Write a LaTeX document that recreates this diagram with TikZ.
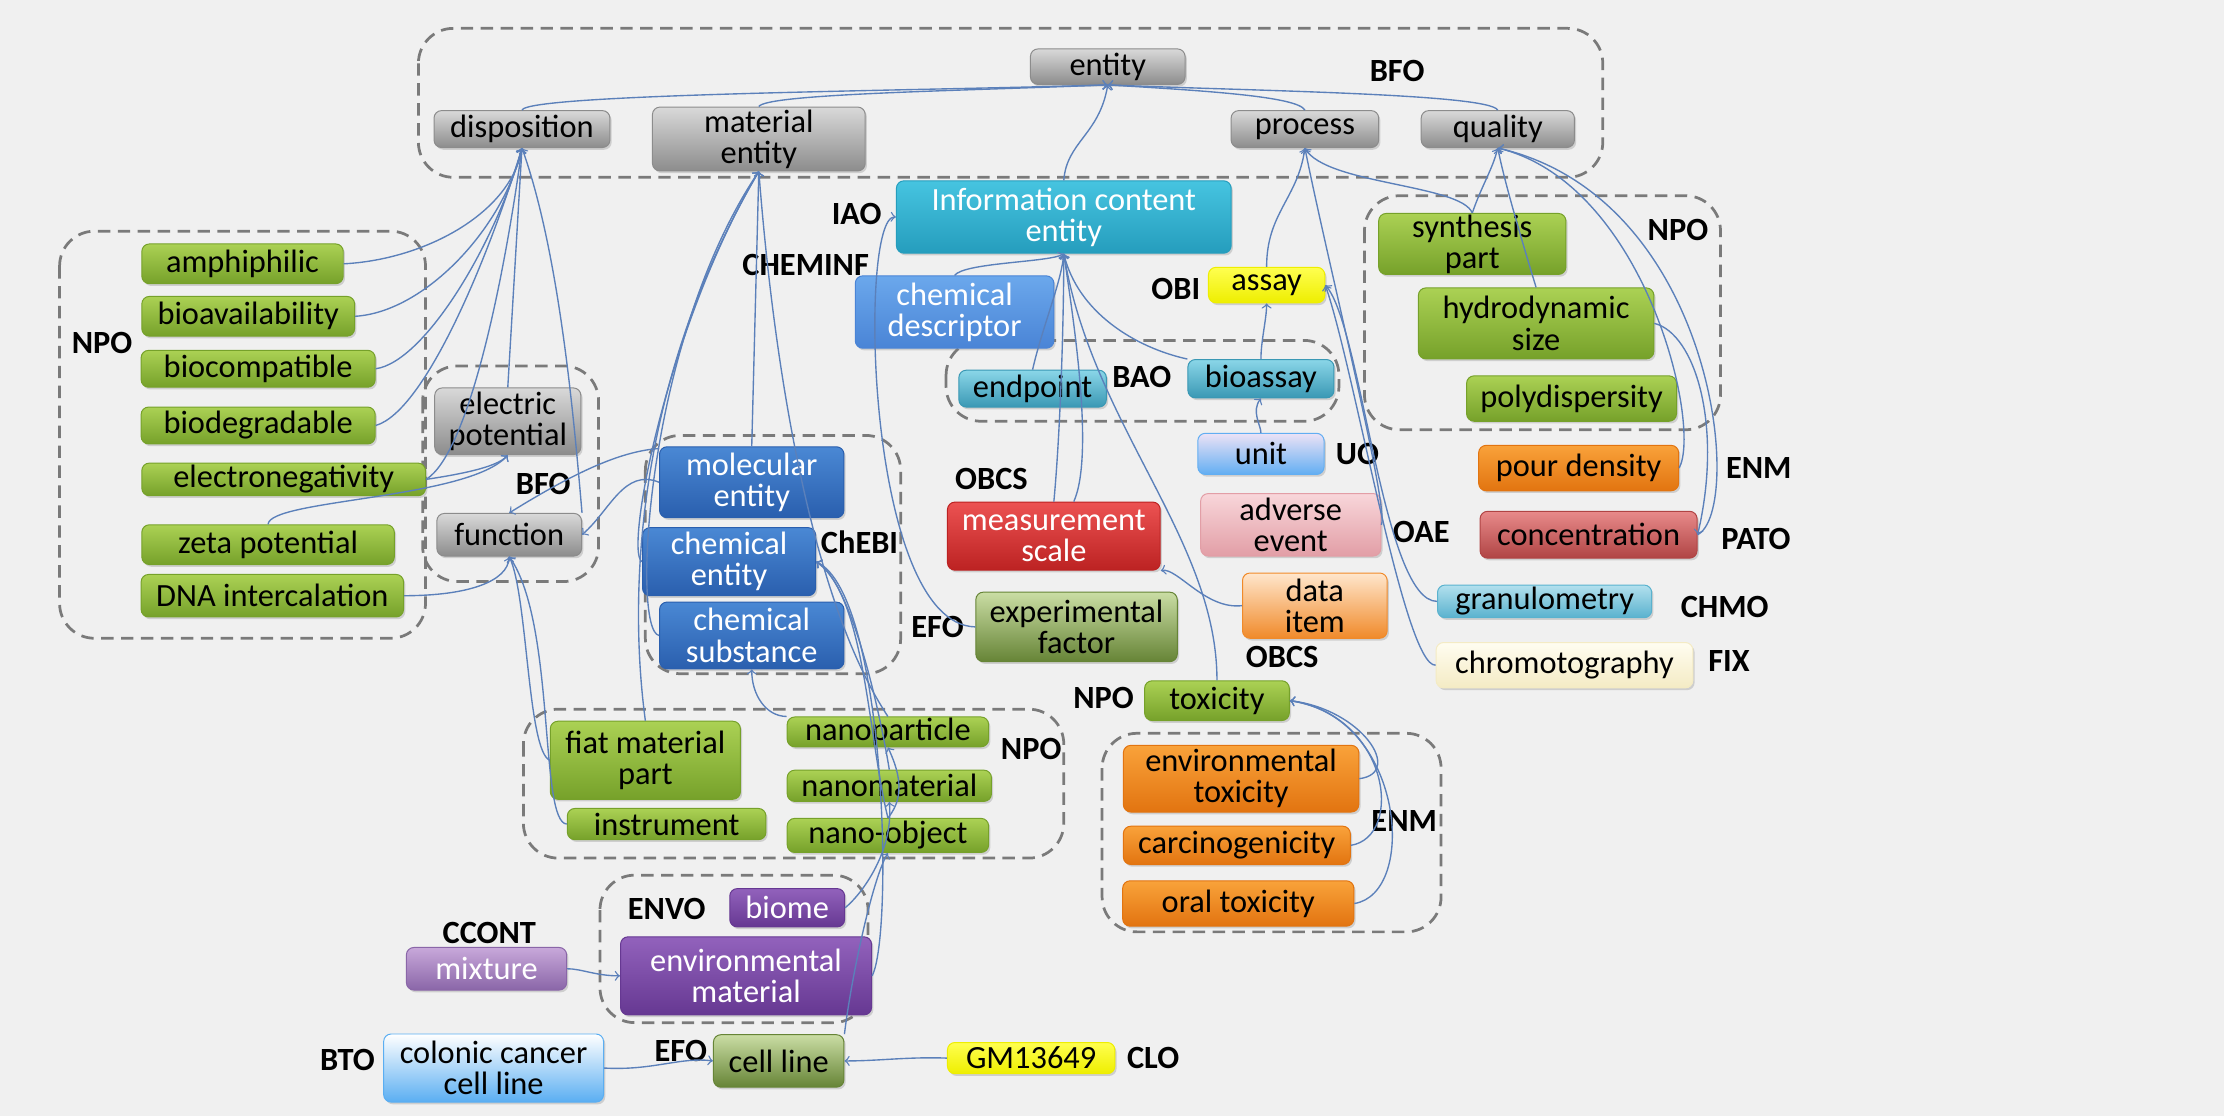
\documentclass[tikz,border=0pt]{standalone}
\usepackage{fontspec}
\setmainfont{Carlito}
\usetikzlibrary{shadows}

\definecolor{bgc}{HTML}{F0F0F0}
\definecolor{edgec}{HTML}{5B80BA}
\definecolor{grpc}{HTML}{7A7A7A}

\tikzset{
  nd/.style={draw, rounded corners=3pt, inner xsep=2pt, inner ysep=0pt, align=center,
    font=\fontsize{13}{12.5}\selectfont,
    drop shadow={shadow xshift=0.7pt, shadow yshift=-0.9pt, opacity=0.3}},
  wh/.style 2 args={minimum width=#1*0.02cm, minimum height=#2*0.02cm},
  lbl/.style={font=\bfseries\fontsize{13}{13}\selectfont, inner sep=0pt},
  grp/.style={draw=grpc, dashed, dash pattern=on 5pt off 3pt, line width=1.1pt, rounded corners=14pt},
  edge/.style={->, draw=edgec, line width=0.55pt},
  bfonode/.style={top color=white!85!black, bottom color=black!45, draw=black!45},
  nponode/.style={top color=HTML_npoT, bottom color=HTML_npoB, draw=HTML_npoB},
  chebinode/.style={top color=HTML_chebiT, bottom color=HTML_chebiB, draw=HTML_chebiB, text=white},
  cheminfnode/.style={top color=HTML_descT, bottom color=HTML_descB, draw=HTML_descB, text=white},
  iaonode/.style={top color=HTML_iaoT, bottom color=HTML_iaoB, draw=HTML_iaoB, text=white},
  baonode/.style={top color=HTML_baoT, bottom color=HTML_baoB, draw=HTML_baoB},
  obinode/.style={top color=HTML_obiT, bottom color=HTML_obiB, draw=HTML_obiB},
  uonode/.style={top color=HTML_uoT, bottom color=HTML_uoB, draw=HTML_uoB},
  oaenode/.style={top color=HTML_oaeT, bottom color=HTML_oaeB, draw=HTML_oaeB},
  itemnode/.style={top color=HTML_itemT, bottom color=HTML_itemB, draw=HTML_itemB},
  scalenode/.style={top color=HTML_scaleT, bottom color=HTML_scaleB, draw=HTML_scaleB, text=white},
  efonode/.style={top color=HTML_efoT, bottom color=HTML_efoB, draw=HTML_efoB},
  enmnode/.style={top color=HTML_enmT, bottom color=HTML_enmB, draw=HTML_enmB},
  patonode/.style={top color=HTML_patoT, bottom color=HTML_patoB, draw=HTML_patoB},
  chmonode/.style={top color=HTML_chmoT, bottom color=HTML_chmoB, draw=HTML_chmoB},
  fixnode/.style={top color=HTML_fixT, bottom color=HTML_fixB, draw=HTML_fixB},
  envonode/.style={top color=HTML_envoT, bottom color=HTML_envoB, draw=HTML_envoB, text=white},
  ccontnode/.style={top color=HTML_ccontT, bottom color=HTML_ccontB, draw=HTML_ccontB, text=white},
  btonode/.style={top color=white, bottom color=HTML_btoB, draw=HTML_btoB},
}

\definecolor{HTML_npoT}{HTML}{ABD154}
\definecolor{HTML_npoB}{HTML}{76A12A}
\definecolor{HTML_chebiT}{HTML}{4A88D4}
\definecolor{HTML_chebiB}{HTML}{2A5FAE}
\definecolor{HTML_descT}{HTML}{6BA8EC}
\definecolor{HTML_descB}{HTML}{4A84D6}
\definecolor{HTML_iaoT}{HTML}{46C4E0}
\definecolor{HTML_iaoB}{HTML}{259DBD}
\definecolor{HTML_baoT}{HTML}{8AD6E8}
\definecolor{HTML_baoB}{HTML}{3A98B4}
\definecolor{HTML_obiT}{HTML}{FFFF50}
\definecolor{HTML_obiB}{HTML}{EEEE00}
\definecolor{HTML_uoT}{HTML}{ECE2F6}
\definecolor{HTML_uoB}{HTML}{62AEF2}
\definecolor{HTML_oaeT}{HTML}{F8D6DA}
\definecolor{HTML_oaeB}{HTML}{E29EA6}
\definecolor{HTML_itemT}{HTML}{FFE6CC}
\definecolor{HTML_itemB}{HTML}{F08A2A}
\definecolor{HTML_scaleT}{HTML}{EC5252}
\definecolor{HTML_scaleB}{HTML}{BC2222}
\definecolor{HTML_efoT}{HTML}{CADDA4}
\definecolor{HTML_efoB}{HTML}{668436}
\definecolor{HTML_enmT}{HTML}{F9A23A}
\definecolor{HTML_enmB}{HTML}{E27410}
\definecolor{HTML_patoT}{HTML}{E88A8A}
\definecolor{HTML_patoB}{HTML}{B04444}
\definecolor{HTML_chmoT}{HTML}{B2E0EE}
\definecolor{HTML_chmoB}{HTML}{5AB2CE}
\definecolor{HTML_fixT}{HTML}{FFFDF0}
\definecolor{HTML_fixB}{HTML}{F4EBC4}
\definecolor{HTML_envoT}{HTML}{9262BC}
\definecolor{HTML_envoB}{HTML}{663892}
\definecolor{HTML_ccontT}{HTML}{C8A8DA}
\definecolor{HTML_ccontB}{HTML}{8A66A8}
\definecolor{HTML_btoB}{HTML}{5AAEF2}

\begin{document}
\begin{tikzpicture}[x=0.02cm, y=-0.02cm]
\fill[bgc] (0,0) rectangle (1568,787);
\useasboundingbox (0,0) rectangle (1568,787);

% ontology groups
\draw[grp] (295,20) rectangle (1130,125);
\draw[grp] (42,163) rectangle (300,450);
\draw[grp] (298,258) rectangle (422,410);
\draw[grp] (455,307) rectangle (635,475);
\draw[grp] (667,240) rectangle (944,297);
\draw[grp] (962,138) rectangle (1213,303);
\draw[grp] (777,517) rectangle (1016,657);
\draw[grp] (369,500) rectangle (750,605);
\draw[grp] (423,617) rectangle (612,721);

% BFO top
\node[nd,bfonode,wh={109}{25}] (ent) at (781,47) {entity};
\node[nd,bfonode,wh={124}{26}] (disp) at (368,91) {disposition};
\node[nd,bfonode,wh={150}{45}] (matent) at (535,98) {material\\entity};
\node[nd,bfonode,wh={104}{26}] (proc) at (920,91) {process};
\node[nd,bfonode,wh={108}{26}] (qual) at (1056,91) {quality};

% NPO properties
\node[nd,nponode,wh={142}{28}] (amph) at (171,186) {amphiphilic};
\node[nd,nponode,wh={150}{28}] (bioav) at (175,223) {bioavailability};
\node[nd,nponode,wh={165}{26}] (biocomp) at (182,260) {biocompatible};
\node[nd,nponode,wh={165}{26}] (biodeg) at (182,300) {biodegradable};
\node[nd,nponode,wh={200}{23}] (eneg) at (200,338) {electronegativity};
\node[nd,nponode,wh={178}{28}] (zeta) at (189,384) {zeta potential};
\node[nd,nponode,wh={185}{30}] (dna) at (192,420) {DNA intercalation};

% BFO small
\node[nd,bfonode,wh={103}{47}] (elpot) at (358,297) {electric\\potential};
\node[nd,bfonode,wh={102}{30}] (func) at (359,377) {function};

% ChEBI
\node[nd,chebinode,wh={130}{50}] (molent) at (530,340) {molecular\\entity};
\node[nd,chebinode,wh={122}{48}] (chement) at (514,396) {chemical\\entity};
\node[nd,chebinode,wh={130}{47}] (chemsub) at (530,448) {chemical\\substance};

% IAO, CHEMINF, BAO, OBI
\node[nd,iaonode,wh={236}{51}] (ice) at (750,153) {Information content\\entity};
\node[nd,cheminfnode,wh={140}{51}] (chemdesc) at (673,220) {chemical\\descriptor};
\node[nd,baonode,wh={104}{26}] (endp) at (728,274) {endpoint};
\node[nd,baonode,wh={103}{27}] (bioas) at (889,267) {bioassay};
\node[nd,obinode,wh={82}{25}] (assay) at (893,201) {assay};

% NPO right
\node[nd,nponode,wh={132}{43}] (synth) at (1038,172) {synthesis\\part};
\node[nd,nponode,wh={166}{50}] (hydro) at (1083,228) {hydrodynamic\\size};
\node[nd,nponode,wh={148}{32}] (polyd) at (1108,281) {polydispersity};

% middle
\node[nd,uonode,wh={89}{29}] (unit) at (889,320) {unit};
\node[nd,oaenode,wh={127}{44}] (adv) at (910,370) {adverse\\event};
\node[nd,itemnode,wh={102}{46}] (datai) at (927,427) {data\\item};
\node[nd,scalenode,wh={150}{48}] (mscale) at (743,378) {measurement\\scale};
\node[nd,efonode,wh={142}{49}] (expf) at (759,442) {experimental\\factor};
\node[nd,nponode,wh={102}{28}] (tox) at (858,494) {toxicity};

% right column
\node[nd,enmnode,wh={141}{32}] (pourd) at (1113,330) {pour density};
\node[nd,patonode,wh={153}{33}] (conc) at (1120,377) {concentration};
\node[nd,chmonode,wh={151}{23}] (granu) at (1089,424) {granulometry};
\node[nd,fixnode,wh={181}{32}] (chrom) at (1103,469) {chromotography};

% ENM
\node[nd,enmnode,wh={166}{47}] (envtox) at (875,549) {environmental\\toxicity};
\node[nd,enmnode,wh={160}{27}] (carc) at (872,596) {carcinogenicity};
\node[nd,enmnode,wh={163}{32}] (oraltox) at (873,637) {oral toxicity};

% NPO bottom
\node[nd,nponode,wh={134}{55}] (fiat) at (455,536) {fiat material\\part};
\node[nd,nponode,wh={140}{22}] (instr) at (470,581) {instrument};
\node[nd,nponode,wh={142}{21}] (nanop) at (626,516) {nanoparticle};
\node[nd,nponode,wh={144}{22}] (nanom) at (627,554) {nanomaterial};
\node[nd,nponode,wh={142}{24}] (nanoo) at (626,589) {nano-object};

% ENVO, CCONT, BTO, EFO, CLO
\node[nd,envonode,wh={81}{27}] (biome) at (555,640) {biome};
\node[nd,envonode,wh={177}{55}] (envmat) at (526,688) {environmental\\material};
\node[nd,ccontnode,wh={113}{30}] (mixt) at (343,683) {mixture};
\node[nd,btonode,wh={155}{48}] (colon) at (348,753) {colonic cancer\\cell line};
\node[nd,efonode,wh={92}{37}] (cellline) at (549,748) {cell line};
\node[nd,obinode,wh={118}{22}] (gm) at (727,746) {GM13649};

% ontology labels
\node[lbl] (lbfo) at (985,50) {BFO};
\node[lbl] (lnpoa) at (72,242) {NPO};
\node[lbl] (lbfob) at (383,341) {BFO};
\node[lbl] (lcheminf) at (568,187) {CHEMINF};
\node[lbl] (lchebi) at (606,382) {ChEBI};
\node[lbl] (liao) at (604,151) {IAO};
\node[lbl] (lobi) at (829,204) {OBI};
\node[lbl] (lbao) at (805,266) {BAO};
\node[lbl] (lnpob) at (1183,162) {NPO};
\node[lbl] (luo) at (957,320) {UO};
\node[lbl] (loae) at (1002,375) {OAE};
\node[lbl] (lobcsa) at (699,338) {OBCS};
\node[lbl] (lobcsb) at (904,463) {OBCS};
\node[lbl] (lefoa) at (661,442) {EFO};
\node[lbl] (lnpoc) at (778,492) {NPO};
\node[lbl] (lenma) at (1240,330) {ENM};
\node[lbl] (lpato) at (1238,380) {PATO};
\node[lbl] (lchmo) at (1216,428) {CHMO};
\node[lbl] (lfix) at (1219,466) {FIX};
\node[lbl] (lenmb) at (990,579) {ENM};
\node[lbl] (lnpod) at (727,528) {NPO};
\node[lbl] (lenvo) at (470,641) {ENVO};
\node[lbl] (lccont) at (345,658) {CCONT};
\node[lbl] (lbto) at (245,747) {BTO};
\node[lbl] (lefob) at (480,741) {EFO};
\node[lbl] (lclo) at (813,746) {CLO};

% to entity
\draw[edge] (disp.north) .. controls (372,66) and (650,64) .. (ent.south);
\draw[edge] (matent.north) .. controls (540,66) and (680,64) .. (ent.south);
\draw[edge] (proc.north) .. controls (915,68) and (850,64) .. (ent.south);
\draw[edge] (qual.north) .. controls (1050,66) and (880,64) .. (ent.south);
\draw[edge] (ice.north) .. controls (752,100) and (775,95) .. (ent.south);

% to disposition
\draw[edge] (amph.east) .. controls (300,183) and (360,150) .. (disp.south);
\draw[edge] (bioav.east) .. controls (300,220) and (355,160) .. (disp.south);
\draw[edge] (biocomp.east) .. controls (300,255) and (350,170) .. (disp.south);
\draw[edge] (biodeg.east) .. controls (300,290) and (345,180) .. (disp.south);
\draw[edge] (eneg.east) .. controls (330,320) and (355,200) .. (disp.south);
\draw[edge] (elpot.north) -- (disp.south);
\draw[edge] (func.north east) .. controls (405,300) and (395,180) .. (disp.south);

% BFO small group
\draw[edge] (eneg.east) .. controls (320,335) and (350,330) .. (elpot.south);
\draw[edge] (zeta.north) .. controls (190,352) and (330,352) .. (elpot.south);
\draw[edge] (dna.east) .. controls (330,420) and (358,410) .. (func.south);
\draw[edge] (molent.west) .. controls (440,330) and (430,360) .. (func.east);
\draw[edge] (molent.160) .. controls (440,318) and (410,330) .. (func.north);
\draw[edge] (fiat.west) .. controls (372,530) and (372,420) .. (func.south);
\draw[edge] (instr.west) .. controls (380,580) and (392,440) .. (func.south);

% to material entity
\draw[edge] (molent.north) -- (matent.south);
\draw[edge] (chement.west) .. controls (440,390) and (470,230) .. (matent.south);
\draw[edge] (chemsub.west) .. controls (445,445) and (455,240) .. (matent.south);
\draw[edge] (fiat.north) .. controls (450,470) and (430,300) .. (matent.south);
\draw[edge] (nanop.north) .. controls (570,420) and (545,250) .. (matent.south);

% to chemical entity
\draw[edge] (nanom.north) .. controls (620,500) and (600,410) .. (chement.east);
\draw[edge] (nanoo.north) .. controls (612,520) and (610,420) .. (chement.east);
\draw[edge] (envmat.east) .. controls (630,660) and (625,420) .. (chement.east);
\draw[edge] (nanop.north west) .. controls (540,505) and (530,490) .. (chemsub.south);
\draw[edge] (nanoo.north) .. controls (640,560) and (632,540) .. (nanop.south);
\draw[edge] (biome.east) .. controls (608,630) and (630,600) .. (nanom.south);
\draw[edge] (cellline.north east) .. controls (600,690) and (615,620) .. (nanoo.south);

% to information content entity
\draw[edge] (chemdesc.north) .. controls (680,185) and (740,185) .. (ice.south);
\draw[edge] (endp.north) .. controls (735,230) and (748,200) .. (ice.south);
\draw[edge] (mscale.north) .. controls (748,300) and (750,220) .. (ice.south);
\draw[edge] (mscale.60) .. controls (772,320) and (756,220) .. (ice.south);
\draw[edge] (bioas.north west) .. controls (800,245) and (760,220) .. (ice.south);
\draw[edge] (tox.north) .. controls (858,380) and (770,300) .. (ice.south);
\draw[edge] (expf.west) .. controls (610,440) and (605,152) .. (ice.west);
\draw[edge] (datai.west) .. controls (850,430) and (830,400) .. (mscale.south east);

% assay and process
\draw[edge] (unit.north) .. controls (889,300) and (882,290) .. (bioas.south);
\draw[edge] (bioas.north) .. controls (889,240) and (893,225) .. (assay.south);
\draw[edge] (assay.north) .. controls (893,150) and (915,140) .. (proc.south);
\draw[edge] (synth.north) .. controls (1030,130) and (935,130) .. (proc.south);
\draw[edge] (adv.east) .. controls (980,360) and (935,180) .. (proc.south);
\draw[edge] (granu.west) .. controls (975,424) and (960,230) .. (assay.east);
\draw[edge] (chrom.west) .. controls (990,470) and (955,260) .. (assay.east);

% to quality
\draw[edge] (synth.north) .. controls (1045,130) and (1052,120) .. (qual.south);
\draw[edge] (hydro.north) .. controls (1070,160) and (1060,125) .. (qual.south);
\draw[edge] (pourd.east) .. controls (1200,300) and (1160,130) .. (qual.south);
\draw[edge] (conc.east) .. controls (1230,360) and (1210,140) .. (qual.south);
\draw[edge] (hydro.east) .. controls (1195,235) and (1215,300) .. (conc.east);

% to toxicity
\draw[edge] (envtox.east) .. controls (990,545) and (960,500) .. (tox.east);
\draw[edge] (carc.east) .. controls (990,590) and (980,505) .. (tox.east);
\draw[edge] (oraltox.east) .. controls (1000,630) and (990,505) .. (tox.east);

% bottom row
\draw[edge] (mixt.east) .. controls (410,683) and (420,688) .. (envmat.west);
\draw[edge] (colon.east) .. controls (460,755) and (480,745) .. (cellline.west);
\draw[edge] (gm.west) .. controls (640,745) and (620,748) .. (cellline.east);
\end{tikzpicture}
\end{document}
